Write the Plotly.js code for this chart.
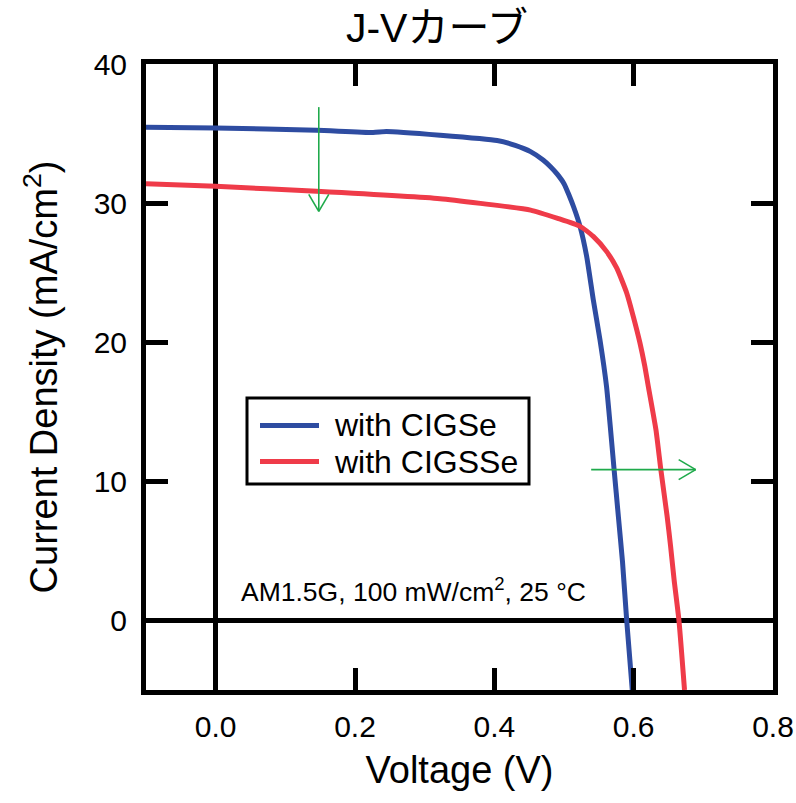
<!DOCTYPE html>
<html><head><meta charset="utf-8">
<script src="https://cdn.plot.ly/plotly-3.0.1.min.js"></script>
<style>html,body{margin:0;padding:0;background:#fff}</style>
</head><body>
<div id="chart" style="width:796px;height:803px"></div>
<script>
// ---- data ----
const seriesNames = ["with CIGSe", "with CIGSSe"];
const voltageCIGSe = [-0.1, 0.0, 0.145, 0.226, 0.245, 0.322, 0.404, 0.43, 0.452, 0.47, 0.481, 0.49, 0.50, 0.507, 0.514, 0.523, 0.5325, 0.542, 0.5516, 0.561, 0.572, 0.578, 0.584, 0.590, 0.598];
const currentCIGSe = [35.45, 35.40, 35.24, 35.08, 35.15, 34.88, 34.5, 34.15, 33.7, 33.1, 32.6, 32.1, 31.4, 30.6, 29.7, 28.33, 26.18, 23.06, 20.19, 16.83, 10.8, 7.5, 4.2, 0.0, -5.0];
const voltageCIGSSe = [-0.1, 0.0, 0.145, 0.322, 0.38, 0.452, 0.491, 0.523, 0.542, 0.561, 0.5756, 0.590, 0.5994, 0.609, 0.616, 0.621, 0.632, 0.639, 0.648, 0.653, 0.658, 0.665, 0.673];
const currentCIGSSe = [31.40, 31.21, 30.85, 30.32, 29.98, 29.5, 28.9, 28.33, 27.61, 26.53, 25.34, 23.54, 21.86, 19.95, 18.27, 16.83, 13.7, 10.84, 7.5, 5.33, 2.94, 0.0, -5.0];
const xTickVals = [0, 0.2, 0.4, 0.6, 0.8];
const xTickText = ["0.0", "0.2", "0.4", "0.6", "0.8"];
const yTickVals = [0, 10, 20, 30, 40];
const yTickText = ["0", "10", "20", "30", "40"];
const xRange = [-0.1, 0.8];
const yRange = [-5, 40];
const chartTitle = "J-Vカーブ";
const xTitle = "Voltage (V)";
const yTitle = "Current Density (mA/cm<sup>2</sup>)";
const conditionText = "AM1.5G, 100 mW/cm<sup>2</sup>, 25 °C";
// arrows (annotation marks): down arrow at x, from y0 to y1; right arrow at y, from x0 to x1
const arrowDown = {x: 0.148, y0: 36.9, y1: 29.4};
const arrowRight = {y: 10.84, x0: 0.539, x1: 0.689};

// ---- styles / geometry ----
const W = 796, H = 803, ML = 146, MR = 23, MT = 64, MB = 113;
const PW = W - ML - MR, PH = H - MT - MB;
const px = v => (v - ML) / PW;            // pixel x -> paper x
const py = v => (H - MB - v) / PH;        // pixel y -> paper y
const dxPerPx = (xRange[1] - xRange[0]) / PW;
const dyPerPx = (yRange[1] - yRange[0]) / PH;
const BLUE = "#2e4ca1", RED = "#ef3b49", GREEN = "#1faa4b";
const FONT = "Liberation Sans, Arial, Noto Sans CJK JP, sans-serif";

const traces = [
  {x: voltageCIGSe, y: currentCIGSe, name: seriesNames[0], type: "scatter", mode: "lines",
   line: {color: BLUE, width: 5, shape: "spline", smoothing: 0.5}},
  {x: voltageCIGSSe, y: currentCIGSSe, name: seriesNames[1], type: "scatter", mode: "lines",
   line: {color: RED, width: 5, shape: "spline", smoothing: 0.5}}
];

const wingBack = 17, wingSide = 10;
const arrowLine = {color: GREEN, width: 1.6};
const shapes = [
  // down arrow
  {type: "line", xref: "x", yref: "y", x0: arrowDown.x, x1: arrowDown.x, y0: arrowDown.y0, y1: arrowDown.y1, line: arrowLine},
  {type: "line", xref: "x", yref: "y", x0: arrowDown.x - wingSide * dxPerPx, x1: arrowDown.x, y0: arrowDown.y1 + wingBack * dyPerPx, y1: arrowDown.y1, line: arrowLine},
  {type: "line", xref: "x", yref: "y", x0: arrowDown.x + wingSide * dxPerPx, x1: arrowDown.x, y0: arrowDown.y1 + wingBack * dyPerPx, y1: arrowDown.y1, line: arrowLine},
  // right arrow
  {type: "line", xref: "x", yref: "y", x0: arrowRight.x0, x1: arrowRight.x1, y0: arrowRight.y, y1: arrowRight.y, line: arrowLine},
  {type: "line", xref: "x", yref: "y", x0: arrowRight.x1 - wingBack * dxPerPx, x1: arrowRight.x1, y0: arrowRight.y + wingSide * dyPerPx, y1: arrowRight.y, line: arrowLine},
  {type: "line", xref: "x", yref: "y", x0: arrowRight.x1 - wingBack * dxPerPx, x1: arrowRight.x1, y0: arrowRight.y - wingSide * dyPerPx, y1: arrowRight.y, line: arrowLine},
  // legend box
  {type: "rect", xref: "paper", yref: "paper", x0: px(247), x1: px(529), y0: py(484), y1: py(398),
   line: {color: "#000", width: 3}, fillcolor: "#fff"},
  {type: "line", xref: "paper", yref: "paper", x0: px(260), x1: px(319), y0: py(425.5), y1: py(425.5), line: {color: BLUE, width: 5}},
  {type: "line", xref: "paper", yref: "paper", x0: px(260), x1: px(319), y0: py(461.5), y1: py(461.5), line: {color: RED, width: 5}}
];

const annotations = [
  {text: seriesNames[0], xref: "paper", yref: "paper", x: px(332), y: py(425), xanchor: "left", yanchor: "middle", showarrow: false, font: {size: 32, color: "#000", family: FONT}},
  {text: seriesNames[1], xref: "paper", yref: "paper", x: px(332), y: py(462), xanchor: "left", yanchor: "middle", showarrow: false, font: {size: 32, color: "#000", family: FONT}},
  {text: conditionText, xref: "paper", yref: "paper", x: px(239), y: py(590), xanchor: "left", yanchor: "middle", showarrow: false, font: {size: 26.5, color: "#000", family: FONT}}
];

const axisCommon = {
  showline: true, linecolor: "#000", linewidth: 5, mirror: "ticks",
  ticks: "inside", ticklen: 22, tickwidth: 5, tickcolor: "#000",
  showgrid: false, zeroline: true, zerolinecolor: "#000", zerolinewidth: 5,
  tickfont: {size: 30, color: "#000", family: FONT}
};

const layout = {
  width: W, height: H,
  margin: {l: ML, r: MR, t: MT, b: MB, pad: 0},
  paper_bgcolor: "#fff", plot_bgcolor: "#fff",
  showlegend: false,
  font: {family: FONT, color: "#000"},
  title: {text: chartTitle, font: {size: 41, color: "#000", family: FONT}, x: 0.549, xanchor: "center", xref: "container",
          y: 1 - 28 / H, yref: "container", yanchor: "middle"},
  xaxis: Object.assign({}, axisCommon, {
    range: xRange, tickvals: xTickVals, ticktext: xTickText, ticklabelstandoff: 6,
    title: {text: xTitle, font: {size: 38, color: "#000", family: FONT}, standoff: 16}
  }),
  yaxis: Object.assign({}, axisCommon, {
    range: yRange, tickvals: yTickVals, ticktext: yTickText, ticklabelstandoff: 8,
    title: {text: yTitle, font: {size: 38, color: "#000", family: FONT}, standoff: 26}
  }),
  shapes: shapes,
  annotations: annotations
};

Plotly.newPlot("chart", traces, layout, {displayModeBar: false, staticPlot: true});
</script>
</body></html>
